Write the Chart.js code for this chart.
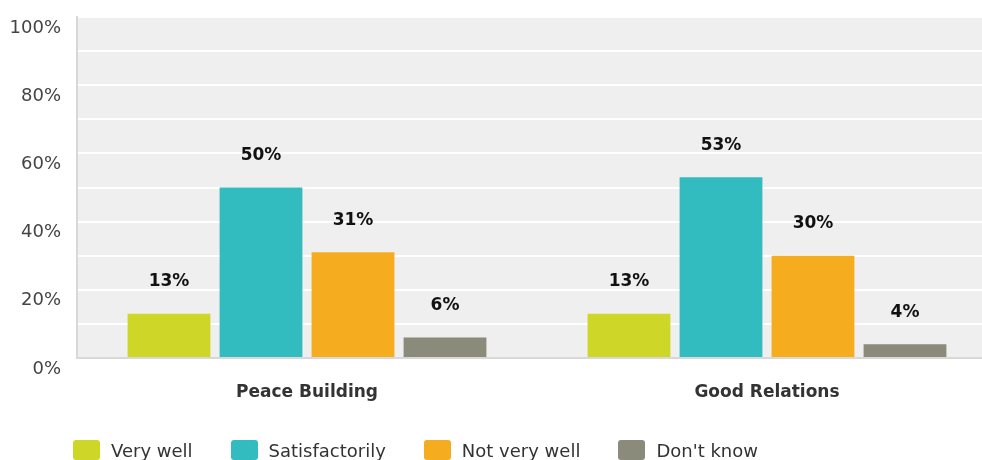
<!DOCTYPE html>
<html>
<head>
<meta charset="utf-8">
<script src="https://cdn.jsdelivr.net/npm/chart.js@4/dist/chart.umd.min.js"></script>
<style>
  html, body { margin: 0; padding: 0; background: #fff; overflow: hidden; }
  #wrap { position: relative; width: 982px; height: 460px; overflow: hidden; }
  #chart { position: absolute; left: 0; top: 0; }
  #legend { position: absolute; left: 73px; top: 440px; display: flex; font: 18px "DejaVu Sans", sans-serif; color: #333; }
  .item { display: flex; align-items: center; margin-right: 38px; height: 20px; }
  .swatch { width: 27px; height: 20px; border-radius: 3px; margin-right: 11px; }
</style>
</head>
<body>
<div id="wrap">
  <canvas id="chart" width="1000" height="460"></canvas>
  <div id="legend"></div>
</div>
<script>
const categories = ['Peace Building', 'Good Relations'];
const seriesNames = ['Very well', 'Satisfactorily', 'Not very well', "Don't know"];
const veryWell = [13, 13];
const satisfactorily = [50, 53];
const notVeryWell = [31, 30];
const dontKnow = [6, 4];
const seriesColors = ['#ced628', '#33bcbf', '#f5ac1f', '#8a8b7a'];

const seriesValues = [veryWell, satisfactorily, notVeryWell, dontKnow];

// grey plot background behind the bars
const plotBackground = {
    id: 'plotBackground',
    beforeDraw(chart) {
        const { ctx, chartArea } = chart;
        ctx.save();
        ctx.fillStyle = '#efefef';
        ctx.fillRect(chartArea.left, chartArea.top, chartArea.right - chartArea.left, chartArea.bottom - chartArea.top);
        ctx.restore();
    }
};

// percentage labels above each bar
const valueLabels = {
    id: 'valueLabels',
    afterDatasetsDraw(chart) {
        const ctx = chart.ctx;
        ctx.save();
        ctx.font = 'bold 17px "DejaVu Sans", sans-serif';
        ctx.fillStyle = '#111';
        ctx.textAlign = 'center';
        ctx.textBaseline = 'middle';
        chart.data.datasets.forEach((ds, i) => {
            chart.getDatasetMeta(i).data.forEach((bar, j) => {
                ctx.fillText(ds.data[j] + '%', bar.x, bar.y - 32);
            });
        });
        ctx.restore();
    }
};

const chart = new Chart(document.getElementById('chart'), {
    type: 'bar',
    data: {
        labels: categories,
        datasets: seriesNames.map((name, i) => ({
            label: name,
            data: seriesValues[i],
            backgroundColor: seriesColors[i],
            categoryPercentage: 0.8,
            barPercentage: 0.9
        }))
    },
    options: {
        responsive: false,
        animation: false,
        layout: { padding: { top: 17, right: 3, left: 0, bottom: 0 } },
        plugins: {
            legend: { display: false },
            tooltip: { enabled: false }
        },
        scales: {
            x: {
                grid: { display: false },
                border: { color: '#d8d8d8', width: 2 },
                ticks: {
                    padding: 16,
                    color: '#333',
                    font: { family: 'DejaVu Sans', size: 17, weight: 'bold' }
                },
                afterFit: scale => { scale.height = 102; }
            },
            y: {
                min: 0,
                max: 100,
                grid: { color: '#ffffff', lineWidth: 2, drawTicks: false },
                border: { color: '#d8d8d8', width: 2 },
                ticks: {
                    stepSize: 10,
                    padding: 16,
                    labelOffset: 11,
                    color: '#444',
                    font: { family: 'DejaVu Sans', size: 18 },
                    callback: v => (v % 20 === 0 ? v + '%' : '')
                },
                afterFit: scale => {
                    scale.width = 77;
                    scale.paddingTop = 0;
                    scale.paddingBottom = 0;
                }
            }
        }
    },
    plugins: [plotBackground, valueLabels]
});

// legend row under the chart
const legend = document.getElementById('legend');
seriesNames.forEach((name, i) => {
    const item = document.createElement('div');
    item.className = 'item';
    item.innerHTML = `<span class="swatch" style="background:${seriesColors[i]}"></span><span>${name}</span>`;
    legend.appendChild(item);
});
</script>
</body>
</html>
